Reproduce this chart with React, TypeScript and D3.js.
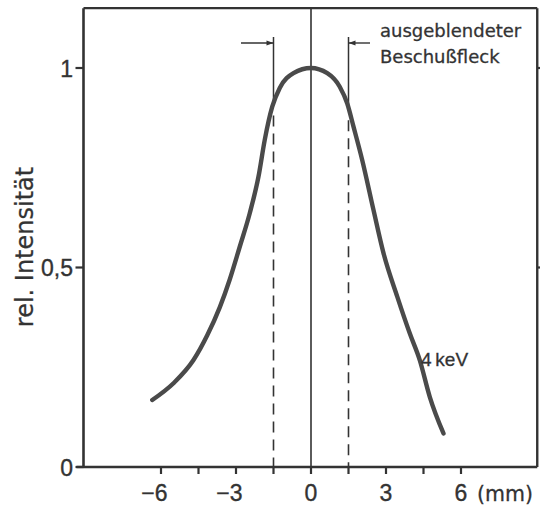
import React from "react";
import * as d3 from "d3";

// ---- data ----
const positionsMm = [-6.35, -5.5, -4.7, -4.15, -3.65, -3.25, -2.85, -2.45, -2.1, -1.85, -1.55, -1.25, -0.7, 0, 0.65, 1.15, 1.45, 1.7, 2.05, 2.5, 2.9, 3.45, 3.95, 4.35, 4.75, 5.3];
const intensity = [0.168, 0.21, 0.268, 0.33, 0.4, 0.47, 0.552, 0.636, 0.728, 0.82, 0.903, 0.95, 0.987, 1.0, 0.987, 0.953, 0.911, 0.853, 0.769, 0.644, 0.536, 0.427, 0.335, 0.268, 0.176, 0.084];
const xMajorTicks = [-6, -3, 0, 3, 6];
const xMinorTicks = [-4.5, -1.5, 1.5, 4.5];
const yTicks = [0, 0.5, 1];
const yTickLabels = ["0", "0,5", "1"];
const spotEdges = [-1.5, 1.5];
const arrowTails = [-2.8, 2.36];
const seriesLabel = "4 keV";
const annotationLines = ["ausgeblendeter", "Beschußfleck"];
const yTitle = "rel. Intensität";
const xUnit = "(mm)";

const W = 540;
const H = 508;

export default function App() {
  const x = d3.scaleLinear().domain([-9.1, 9.05]).range([83.5, 537.25]);
  const y = d3.scaleLinear().domain([0, 1.15]).range([467, 8.15]);
  const pts: [number, number][] = positionsMm.map((p, i) => [p, intensity[i]]);
  const line = d3
    .line<[number, number]>()
    .x((d) => x(d[0]))
    .y((d) => y(d[1]))
    .curve(d3.curveMonotoneX);
  const interp = (xv: number) => {
    for (let i = 0; i < positionsMm.length - 1; i++) {
      if (xv >= positionsMm[i] && xv <= positionsMm[i + 1]) {
        const t = (xv - positionsMm[i]) / (positionsMm[i + 1] - positionsMm[i]);
        return intensity[i] + t * (intensity[i + 1] - intensity[i]);
      }
    }
    return 0;
  };
  const ink = "#333";
  const x0 = x.range()[0];
  const x1 = x.range()[1];
  const yb = y(0);
  const yt = y.range()[1];
  const arrowY = 43;
  const lineTop = 37;
  const textFont = "DejaVu Sans, sans-serif";
  const tickFont = "Liberation Sans, Arial, sans-serif";

  return (
    <svg
      width={W}
      height={H}
      viewBox={`0 0 ${W} ${H}`}
      style={{ position: "absolute", left: 0, top: 0, background: "#fff" }}
    >
      <defs>
        <marker id="ah" viewBox="0 0 10 10" refX="10" refY="5" markerWidth="8" markerHeight="7" orient="auto" markerUnits="userSpaceOnUse">
          <path d="M0,1.5 L10,5 L0,8.5 Z" fill={ink} />
        </marker>
      </defs>
      <rect x={0} y={0} width={W} height={H} fill="#fff" />
      {/* frame */}
      <line x1={x0} y1={yt} x2={x1} y2={yt} stroke={ink} strokeWidth={2.4} />
      <line x1={x1} y1={yt} x2={x1} y2={yb} stroke={ink} strokeWidth={2.4} />
      <line x1={x0} y1={yt} x2={x0} y2={yb} stroke={ink} strokeWidth={2.6} />
      <line x1={x0 - 7} y1={yb} x2={x1} y2={yb} stroke={ink} strokeWidth={2.6} />
      {/* y ticks */}
      {yTicks.map((t, i) => (
        <g key={"yt" + i}>
          <line x1={x0 - 8} x2={x0} y1={y(t)} y2={y(t)} stroke={ink} strokeWidth={2.2} />
          {t > 0 && <line x1={x1} x2={x1 + 4} y1={y(t)} y2={y(t)} stroke={ink} strokeWidth={2.2} />}
          <text x={73} y={y(t) + 8.5} textAnchor="end" fontFamily={tickFont} fontSize={23} fill={ink} stroke={ink} strokeWidth={0.35}>
            {yTickLabels[i]}
          </text>
        </g>
      ))}
      {/* x ticks */}
      {[...xMajorTicks, ...xMinorTicks].map((t, i) => (
        <line key={"xt" + i} x1={x(t)} x2={x(t)} y1={yb} y2={yb + 7} stroke={ink} strokeWidth={2.2} />
      ))}
      {xMajorTicks.map((t, i) => (
        <text
          key={"xl" + i}
          x={t < 0 ? x(t) + 6.6 : x(t)}
          y={501}
          textAnchor={t < 0 ? "end" : "middle"}
          fontFamily={tickFont}
          fontSize={23}
          fill={ink}
          stroke={ink}
          strokeWidth={0.35}
        >
          {t < 0 ? "\u2212" + Math.abs(t) : String(t)}
        </text>
      ))}
      <text x={477} y={501} fontFamily={textFont} fontSize={20.5} fill={ink} stroke={ink} strokeWidth={0.3}>
        {xUnit}
      </text>
      {/* y title */}
      <text
        transform={`translate(33,247) rotate(-90)`}
        textAnchor="middle"
        fontFamily={textFont}
        fontSize={24}
        fill={ink}
        stroke={ink}
        strokeWidth={0.25}
      >
        {yTitle}
      </text>
      {/* center line */}
      <line x1={x(0)} x2={x(0)} y1={yt} y2={yb} stroke={ink} strokeWidth={1.6} />
      {/* spot edges */}
      {spotEdges.map((e, i) => {
        const cy = y(interp(e));
        return (
          <g key={"se" + i}>
            <line x1={x(e)} x2={x(e)} y1={lineTop} y2={cy} stroke={ink} strokeWidth={1.5} />
            <line
              x1={x(e)}
              x2={x(e)}
              y1={cy + 12}
              y2={yb}
              stroke={ink}
              strokeWidth={1.6}
              strokeDasharray="11 7"
            />
            <line
              x1={x(arrowTails[i])}
              x2={x(e)}
              y1={arrowY}
              y2={arrowY}
              stroke={ink}
              strokeWidth={1.4}
              markerEnd="url(#ah)"
            />
          </g>
        );
      })}
      {/* curve */}
      <path d={line(pts) || ""} fill="none" stroke="#4a4a4a" strokeWidth={4.4} strokeLinecap="round" />
      {/* labels */}
      <text x={421} y={366} fontFamily={tickFont} fontSize={19} wordSpacing={-1.5} fill={ink} stroke={ink} strokeWidth={0.3}>
        {seriesLabel}
      </text>
      {annotationLines.map((t, i) => (
        <text key={"an" + i} x={380} y={37 + i * 25.5} fontFamily={textFont} fontSize={18} fill={ink} stroke={ink} strokeWidth={0.3}>
          {t}
        </text>
      ))}
    </svg>
  );
}
